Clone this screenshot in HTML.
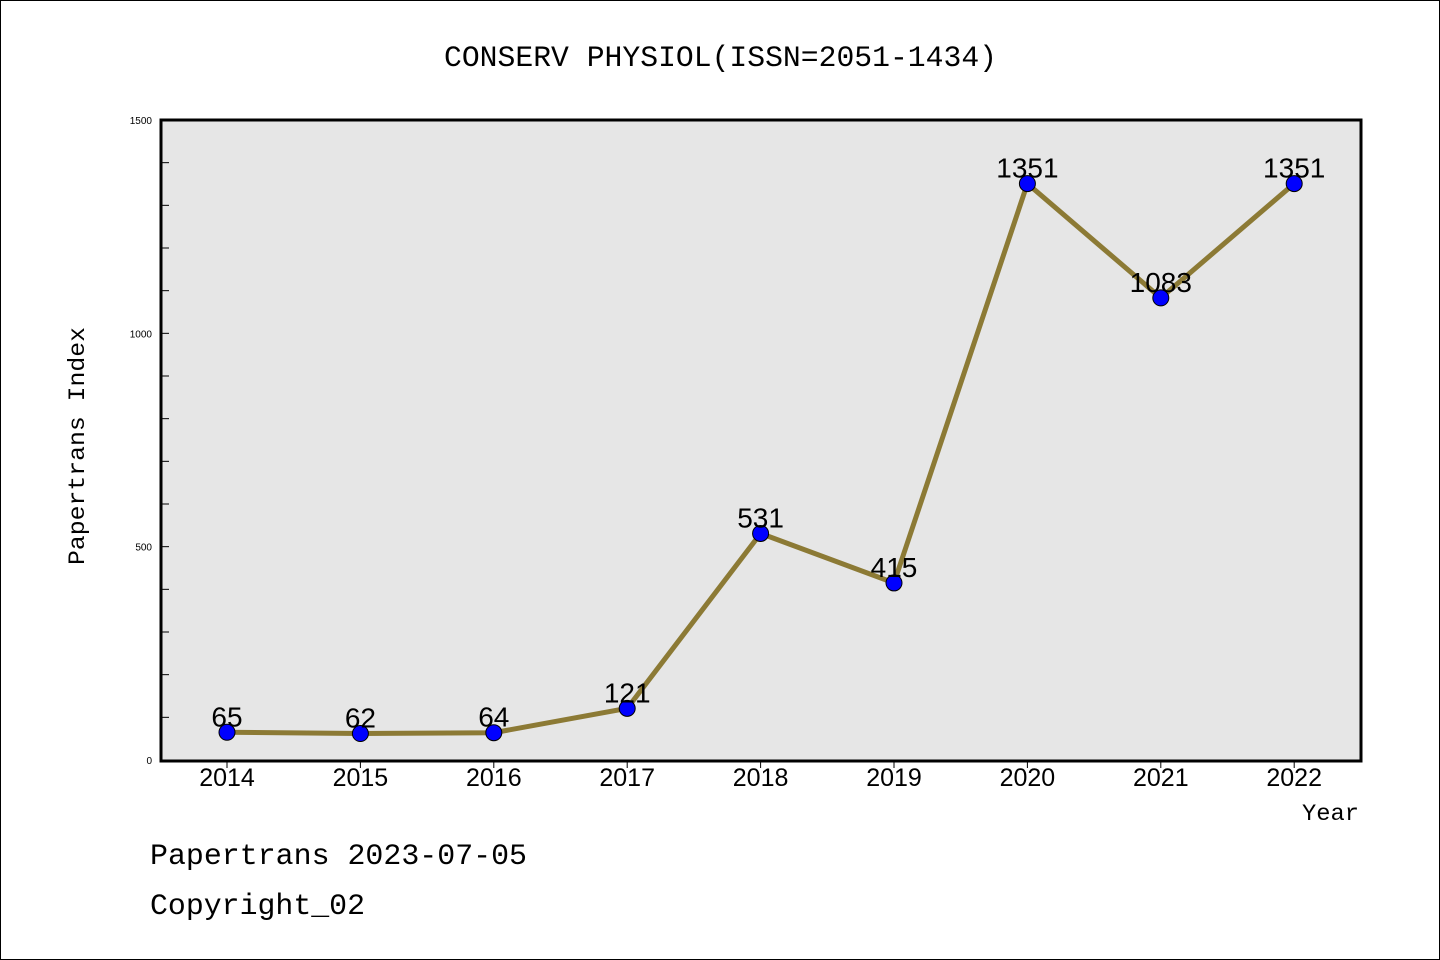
<!DOCTYPE html>
<html><head><meta charset="utf-8"><style>
body{margin:0;background:#fff}
svg{display:block}
.s{font-family:"Liberation Sans",sans-serif}
.m{font-family:"WenQuanYi Zen Hei Mono","WenQuanYi Zen Hei","Liberation Mono",monospace}
</style></head><body>
<svg id="chart" width="1440" height="960" xmlns="http://www.w3.org/2000/svg">
<rect x="0.5" y="0.5" width="1439" height="959" fill="#fff" stroke="#000"/>
<text class="m" x="444" y="66" font-size="30" textLength="553" lengthAdjust="spacingAndGlyphs">CONSERV PHYSIOL(ISSN=2051-1434)</text>
<rect x="161" y="120" width="1200" height="641" fill="#e6e6e6"/>
<g id="axes"></g>
<g id="marks"></g>
<rect x="161" y="120" width="1200" height="641" fill="none" stroke="#000" stroke-width="3"/>
<text class="m" transform="translate(84,565) rotate(-90)" font-size="23" textLength="238" lengthAdjust="spacingAndGlyphs">Papertrans Index</text>
<text class="m" x="1302" y="820" font-size="23" textLength="57" lengthAdjust="spacingAndGlyphs">Year</text>
<text class="m" x="150" y="864" font-size="30" textLength="377" lengthAdjust="spacingAndGlyphs">Papertrans 2023-07-05</text>
<text class="m" x="150" y="914" font-size="30" textLength="215" lengthAdjust="spacingAndGlyphs">Copyright_02</text>
</svg>
<script>
const years = ["2014","2015","2016","2017","2018","2019","2020","2021","2022"];
const values = [65,62,64,121,531,415,1351,1083,1351];
const yTickLabels = [0,500,1000,1500];
const NS="http://www.w3.org/2000/svg";
const xs = i => 227 + i*133.4;
const ys = v => 760 - v*(640/1500);
const axes=document.getElementById('axes'), marks=document.getElementById('marks');
function mk(tag,attrs,parent){const e=document.createElementNS(NS,tag);for(const k in attrs)e.setAttribute(k,attrs[k]);parent.appendChild(e);return e;}
for(let v=100;v<1500;v+=100){
  const t=mk('line',{x1:161,x2:169,y1:ys(v),y2:ys(v),stroke:'#000','stroke-width':1},axes);
  
  
}
yTickLabels.forEach(v=>{
  const t=mk('text',{x:152,y:ys(v)+4,'font-size':10,'text-anchor':'end','class':'s'},axes);
  t.textContent=v;
  
  
});
years.forEach((y,i)=>{
  const l=mk('line',{x1:xs(i),x2:xs(i),y1:761,y2:768,stroke:'#000','stroke-width':1},axes);
  
  
  const t=mk('text',{x:xs(i),y:786,'font-size':25,'text-anchor':'middle','class':'s'},axes);
  t.textContent=y;
  
  
});
const pl=mk('polyline',{points:values.map((v,i)=>xs(i)+','+ys(v)).join(' '),fill:'none',stroke:'#8c7a35','stroke-width':5},marks);


values.forEach((v,i)=>{
  const c=mk('circle',{cx:xs(i),cy:ys(v),r:8,fill:'#0000ff',stroke:'#000','stroke-width':1},marks);
  
  
  const t=mk('text',{x:xs(i),y:ys(v)-6,'font-size':28,'text-anchor':'middle','class':'s'},marks);
  t.textContent=v;
  
  
});
</script>
</body></html>
